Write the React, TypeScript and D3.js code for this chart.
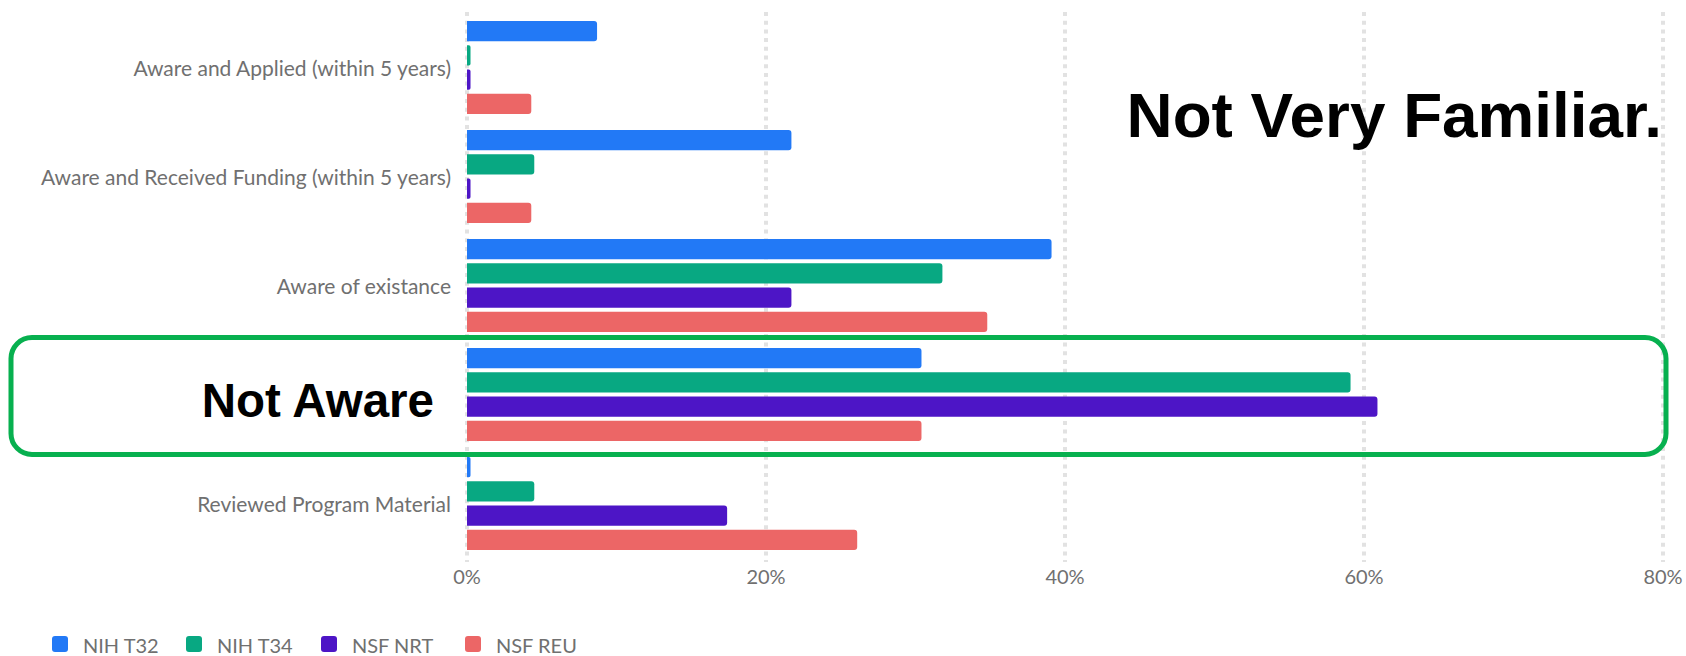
import React from "react";
import * as d3 from "d3";

const categories = [
  "Aware and Applied (within 5 years)",
  "Aware and Received Funding (within 5 years)",
  "Aware of existance",
  "Not Aware",
  "Reviewed Program Material",
];
const seriesNames = ["NIH T32", "NIH T34", "NSF NRT", "NSF REU"];
const nihT32 = [8.7, 21.7, 39.1, 30.4, 0];
const nihT34 = [0, 4.5, 31.8, 59.1, 4.5];
const nsfNrt = [0, 0, 21.7, 60.9, 17.4];
const nsfReu = [4.3, 4.3, 34.8, 30.4, 26.1];
const xTicks = [0, 20, 40, 60, 80];
const colors = ["#2279F6", "#08A882", "#4D15C6", "#EC6666"];

const W = 1686;
const H = 656;
const FONT = "Lato, 'Open Sans', sans-serif";

function barPath(x0: number, y0: number, w: number, h: number, r: number) {
  const rr = Math.min(r, w / 2, h / 2);
  const p = d3.path();
  p.moveTo(x0, y0);
  p.lineTo(x0 + w - rr, y0);
  p.arcTo(x0 + w, y0, x0 + w, y0 + rr, rr);
  p.lineTo(x0 + w, y0 + h - rr);
  p.arcTo(x0 + w, y0 + h, x0 + w - rr, y0 + h, rr);
  p.lineTo(x0, y0 + h);
  p.closePath();
  return p.toString();
}

export default function App() {
  const series = [nihT32, nihT34, nsfNrt, nsfReu];
  const x = d3.scaleLinear().domain([0, 80]).range([467, 1663]);
  const y = d3
    .scaleBand<string>()
    .domain(categories)
    .range([13, 558])
    .paddingInner(0.147)
    .paddingOuter(0.0735);
  const yi = d3
    .scaleBand<string>()
    .domain(seriesNames)
    .range([0, y.bandwidth()])
    .paddingInner(0.16)
    .paddingOuter(0);

  const legendX = [52, 186, 321, 465];

  return (
    <svg
      width={W}
      height={H}
      style={{ position: "absolute", left: 0, top: 0, background: "#fff" }}
    >
      {xTicks.map((t) => (
        <line
          key={"g" + t}
          x1={x(t)}
          x2={x(t)}
          y1={12}
          y2={562}
          stroke="#e2e2e2"
          strokeWidth={4}
          strokeDasharray="4 4.7"
        />
      ))}
      {categories.map((c, ci) => (
        <g key={c}>
          {series.map((s, si) => {
            const w = Math.max(x(s[ci]) - x(0), 3.5);
            return (
              <path
                key={si}
                d={barPath(
                  x(0),
                  (y(c) as number) + (yi(seriesNames[si]) as number),
                  w,
                  yi.bandwidth(),
                  3
                )}
                fill={colors[si]}
              />
            );
          })}
          {c !== "Not Aware" && (
            <text
              x={451}
              y={(y(c) as number) + y.bandwidth() / 2}
              textAnchor="end"
              dominantBaseline="central"
              fontFamily={FONT}
              fontSize={21}
              fill="#707070"
            >
              {c}
            </text>
          )}
        </g>
      ))}
      {xTicks.map((t) => (
        <text
          key={"t" + t}
          x={x(t)}
          y={576}
          textAnchor="middle"
          dominantBaseline="central"
          fontFamily={FONT}
          fontSize={20}
          fill="#707070"
        >
          {t + "%"}
        </text>
      ))}
      {seriesNames.map((n, i) => (
        <g key={n}>
          <rect
            x={legendX[i]}
            y={636}
            width={16}
            height={16}
            rx={3}
            fill={colors[i]}
          />
          <text
            x={legendX[i] + 31}
            y={645}
            dominantBaseline="central"
            fontFamily={FONT}
            fontSize={20}
            fill="#707070"
          >
            {n}
          </text>
        </g>
      ))}
      <rect
        x={11}
        y={337.5}
        width={1655}
        height={117}
        rx={21}
        fill="none"
        stroke="#07B04F"
        strokeWidth={5}
      />
      <text
        x={434}
        y={417}
        textAnchor="end"
        fontFamily="'Liberation Sans', Arial, sans-serif"
        fontWeight="bold"
        fontSize={47.5}
        fill="#000"
      >
        Not Aware
      </text>
      <text
        x={1662}
        y={137}
        textAnchor="end"
        fontFamily="'Liberation Sans', Arial, sans-serif"
        fontWeight="bold"
        fontSize={63.8}
        fill="#000"
      >
        Not Very Familiar.
      </text>
    </svg>
  );
}
